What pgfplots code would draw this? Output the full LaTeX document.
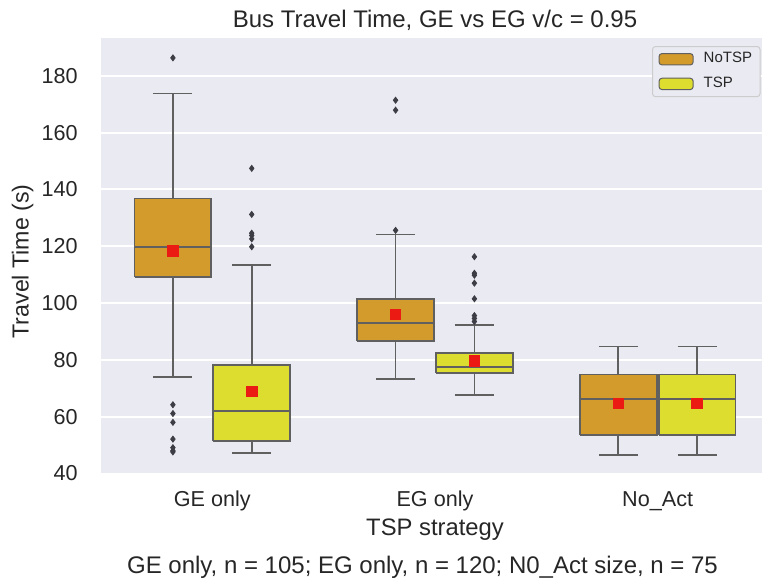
\documentclass[border=0pt]{standalone}
\usepackage{fontspec}
\setmainfont{Liberation Sans}
\usepackage{pgfplots}
\pgfplotsset{compat=1.18}

\definecolor{bgcol}{HTML}{EAEAF2}
\definecolor{notsp}{HTML}{D39A2C}
\definecolor{tsp}{HTML}{DDDD2F}
\definecolor{edgegray}{HTML}{606060}
\definecolor{fliergray}{HTML}{3D3D46}
\definecolor{meanred}{HTML}{EB1A12}
\definecolor{legendgray}{HTML}{CCCCCC}
\definecolor{textgray}{HTML}{262626}

\pgfplotsset{
  whisk/.style={draw=edgegray, line width=0.85pt, mark=none, forget plot},
  fliers/.style={only marks, mark=diamond*, mark size=1.5pt,
    mark options={fill=fliergray, draw=fliergray}, forget plot},
}

% one box: position, lower whisker, Q1, median, Q3, upper whisker, fill colour
\newcommand\boxat[7]{%
  \pgfmathsetmacro\boxL{#1-0.1725}%
  \pgfmathsetmacro\boxR{#1+0.1725}%
  \pgfmathsetmacro\capL{#1-0.0875}%
  \pgfmathsetmacro\capR{#1+0.0875}%
  \addplot[whisk] coordinates {(#1,#3) (#1,#2)};
  \addplot[whisk] coordinates {(#1,#5) (#1,#6)};
  \addplot[whisk] coordinates {(\capL,#2) (\capR,#2)};
  \addplot[whisk] coordinates {(\capL,#6) (\capR,#6)};
  \addplot[whisk, fill=#7, line cap=square]
    coordinates {(\boxL,#3) (\boxR,#3) (\boxR,#5) (\boxL,#5) (\boxL,#3)};
  \addplot[whisk] coordinates {(\boxL,#4) (\boxR,#4)};
}

\begin{document}
\begin{tikzpicture}
\useasboundingbox (-50.5pt,-52.75pt) rectangle (330.5pt,236.75pt);
\clip (-50.5pt,-52.75pt) rectangle (330.5pt,236.75pt);
\begin{axis}[
  at={(0pt,0pt)}, anchor=south west,
  scale only axis, width=334pt, height=217.75pt,
  xmin=-0.5, xmax=2.5, ymin=40, ymax=193.3,
  axis background/.style={fill=bgcol},
  axis line style={draw=none},
  major tick length=0pt,
  ytick={40,60,...,180},
  xtick={0,1,2}, xticklabels={GE only, EG only, No\_Act},
  ymajorgrids, grid style={white, line width=1pt},
  /pgf/number format/assume math mode=true,
  ticklabel style={font=\fontsize{10.8}{12}\selectfont, text=textgray},
  yticklabel style={anchor=east, inner sep=0pt, xshift=-11.5pt},
  xticklabel style={anchor=base, inner sep=0pt, yshift=-16.5pt},
  title={Bus Travel Time, GE vs EG v/c = 0.95},
  title style={at={(axis description cs:0.5,1)}, anchor=base, yshift=-0.5pt,
    inner sep=0pt, font=\fontsize{12}{14}\selectfont, text=textgray},
  xlabel={TSP strategy},
  xlabel style={at={(axis description cs:0.5,-0.1435)}, anchor=base,
    inner sep=0pt, font=\fontsize{11.9}{14}\selectfont, text=textgray},
  ylabel={Travel Time (s)},
  ylabel style={at={(axis description cs:-0.1085,0.487)}, anchor=base,
    inner sep=0pt, font=\fontsize{11.6}{14}\selectfont, text=textgray},
  legend style={at={(axis description cs:0.8249,0.9816)}, anchor=north west,
    draw=legendgray, fill=bgcol, rounded corners=1.5pt, line width=0.5pt,
    font=\fontsize{7.5}{8.5}\selectfont, text=textgray,
    inner xsep=3pt, inner ysep=2pt, row sep=3.6pt, column sep=4pt,
    nodes={inner sep=1pt}, cells={anchor=west}},
]

% GE only
\boxat{-0.177}{74.0}{109.2}{119.8}{136.8}{173.8}{notsp}
\boxat{0.177}{47.2}{51.5}{62.1}{78.3}{113.5}{tsp}
% EG only
\boxat{0.823}{73.3}{86.7}{93.1}{101.5}{124.1}{notsp}
\boxat{1.177}{67.6}{75.4}{77.5}{82.4}{92.3}{tsp}
% No_Act
\boxat{1.823}{46.5}{53.5}{66.2}{74.8}{84.7}{notsp}
\boxat{2.177}{46.5}{53.5}{66.2}{74.8}{84.7}{tsp}

% outliers
\addplot[fliers] coordinates {
  (-0.177,186.3) (-0.177,64.2) (-0.177,61.1) (-0.177,58.0)
  (-0.177,52.1) (-0.177,49.1) (-0.177,48.0) (-0.177,47.6)
  (0.177,147.4) (0.177,131.2) (0.177,124.6) (0.177,123.8)
  (0.177,122.6) (0.177,119.8)
  (0.823,125.6) (0.823,167.9) (0.823,171.4)
  (1.177,116.3) (1.177,110.5) (1.177,109.8) (1.177,107.0)
  (1.177,101.5) (1.177,95.6) (1.177,94.6) (1.177,93.5)
};

% means
\addplot[only marks, mark=square*, mark size=2.6pt,
  mark options={fill=meanred, draw=meanred}, forget plot] coordinates {
  (-0.177,118.4) (0.177,69.0)
  (0.823,96.0) (1.177,79.6)
  (1.823,64.7) (2.177,64.7)
};

\addlegendimage{area legend, fill=notsp, draw=edgegray, line width=0.5pt}
\addlegendentry{NoTSP}
\addlegendimage{area legend, fill=tsp, draw=edgegray, line width=0.5pt}
\addlegendentry{TSP}
\end{axis}
\node[anchor=base, inner sep=0pt, font=\fontsize{12}{14}\selectfont, text=textgray]
  at (160.75pt,-49.9pt) {GE only, n = 105; EG only, n = 120; N0\_Act size, n = 75};
\end{tikzpicture}
\end{document}
